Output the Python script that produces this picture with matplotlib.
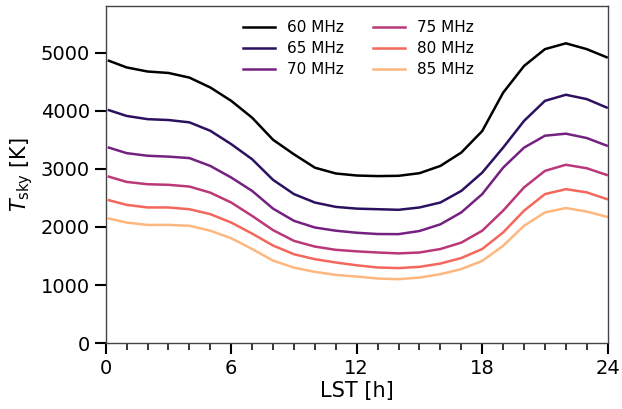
import numpy as np
import matplotlib.pyplot as plt
from matplotlib.ticker import MultipleLocator

# LST sampling [h]
lst = [0.15, 1, 2, 3, 4, 5, 6, 7, 8, 9, 10, 11, 12,
       13, 14, 15, 16, 17, 18, 19, 20, 21, 22, 23, 23.95]

freqs = [60, 65, 70, 75, 80, 85]

t_60 = [4860, 4745, 4675, 4650, 4570, 4400, 4170, 3880, 3500, 3250, 3020, 2920, 2885,
        2875, 2880, 2925, 3050, 3280, 3650, 4310, 4770, 5060, 5160, 5060, 4920]
t_65 = [4010, 3910, 3855, 3840, 3800, 3655, 3425, 3165, 2810, 2565, 2420, 2345, 2315,
        2305, 2295, 2335, 2420, 2620, 2935, 3365, 3825, 4170, 4275, 4200, 4055]
t_70 = [3365, 3270, 3225, 3210, 3185, 3050, 2850, 2620, 2315, 2105, 1990, 1935, 1900,
        1878, 1876, 1930, 2045, 2250, 2565, 3020, 3365, 3570, 3605, 3530, 3400]
t_75 = [2865, 2775, 2735, 2725, 2695, 2590, 2420, 2190, 1945, 1760, 1662, 1606, 1580,
        1560, 1545, 1560, 1620, 1730, 1935, 2280, 2680, 2965, 3070, 3010, 2895]
t_80 = [2460, 2380, 2335, 2335, 2305, 2220, 2075, 1885, 1680, 1530, 1445, 1388, 1340,
        1302, 1292, 1313, 1370, 1465, 1620, 1905, 2280, 2565, 2650, 2595, 2480]
t_85 = [2145, 2075, 2035, 2035, 2020, 1935, 1805, 1620, 1420, 1300, 1227, 1175, 1146,
        1112, 1101, 1128, 1187, 1275, 1415, 1675, 2020, 2250, 2325, 2265, 2175]

series = [t_60, t_65, t_70, t_75, t_80, t_85]

fig = plt.figure(figsize=(6.22, 4.09), dpi=100)
ax = fig.add_axes([0.170, 0.161, 0.807, 0.824])

colors = plt.cm.magma(np.linspace(0, 0.85, len(freqs)))
for f, t, c in zip(freqs, series, colors):
    ax.plot(lst, t, color=c, lw=1.8, label=f"{f} MHz")

ax.set_xlim(0, 24)
ax.set_ylim(0, 5800)
ax.xaxis.set_major_locator(MultipleLocator(6))
ax.xaxis.set_minor_locator(MultipleLocator(1))
ax.yaxis.set_major_locator(MultipleLocator(1000))
ax.tick_params(which='major', length=8, width=1.5, labelsize=14)
ax.tick_params(which='minor', length=5, width=1.1)
for s in ax.spines.values():
    s.set_linewidth(1.0)
    s.set_color('#444444')

ax.set_xlabel("LST [h]", fontsize=15, labelpad=2)
ax.set_ylabel(r"$T_{\rm sky}$ [K]", fontsize=15, labelpad=4)

ax.legend(ncol=2, frameon=False, loc='upper left', bbox_to_anchor=(0.246, 1.0),
          fontsize=11, handlelength=2.1, columnspacing=1.9, labelspacing=0.4)

fig.savefig("out.png", dpi=100)
